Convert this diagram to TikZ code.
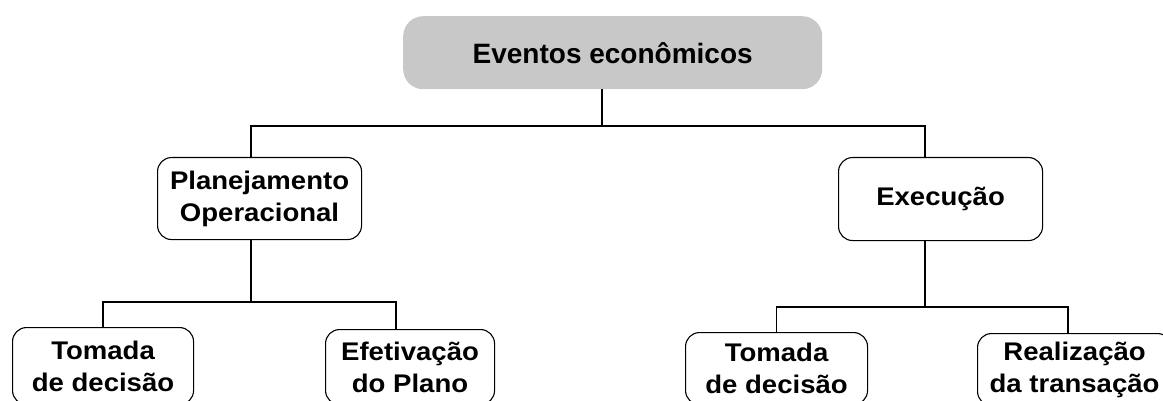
\documentclass[tikz,border=0pt]{standalone}
\usepackage{fontspec}
\setmainfont{Liberation Sans}
\usepackage{graphicx}
\newcommand{\wideline}[1]{\scalebox{1.08}[1]{#1}}
\definecolor{topgray}{RGB}{200,200,200}
\begin{document}
\begin{tikzpicture}[x=1pt,y=-1pt,
  box/.style={draw=black, line width=1.1pt, rounded corners=14pt, inner sep=0pt,
    font=\bfseries\fontsize{25.5}{32}\selectfont, align=center, anchor=north west},
  topbox/.style={fill=topgray, draw=none, rounded corners=20pt, inner sep=0pt,
    font=\bfseries\fontsize{28}{34}\selectfont, anchor=north west},
  conn/.style={draw=black, line width=1.4pt}]
\useasboundingbox (0,0) rectangle (1163,401);
\clip (0,0) rectangle (1163,401);
\fill[white] (0,0) rectangle (1163,401);
% nodes
\node[topbox, minimum width=419pt, minimum height=73pt] (top) at (403,16) {Eventos econômicos};
\node[box, minimum width=204pt, minimum height=82pt] (po) at (157,157) {\wideline{Planejamento}\\\wideline{Operacional}};
\node[box, minimum width=204pt, minimum height=83pt] (ex) at (838,157) {\wideline{Execução}};
\node[box, minimum width=181pt, minimum height=77pt] (tl) at (12,327) {\wideline{Tomada}\\\wideline{de decisão}};
\node[box, minimum width=169pt, minimum height=75pt] (ef) at (325,329) {\wideline{Efetivação}\\\wideline{do Plano}};
\node[box, minimum width=182pt, minimum height=72pt] (tr) at (685,332) {\wideline{Tomada}\\\wideline{de decisão}};
\node[box, minimum width=194pt, minimum height=72pt] (re) at (977,333) {\wideline{Realização}\\\wideline{da transação}};
% junction coordinates
\coordinate (j1) at (602,126);
\coordinate (xL) at (251,126);
\coordinate (xR) at (925,126);
\coordinate (j2) at (251,302);
\coordinate (xE) at (396,302);
\coordinate (j3) at (925,307);
\coordinate (xRe) at (1068,307);
% connectors
\draw[conn] (top.south -| j1) -- (j1);
\draw[conn] (po.north -| xL) -- (xL) -- (xR) -- (ex.north -| xR);
\draw[conn] (po.south -| xL) -- (j2);
\draw[conn] (tl.north) -- (tl.north |- j2) -- (xE) -- (ef.north -| xE);
\draw[conn] (ex.south -| xR) -- (j3);
\draw[conn] (tr.north) -- (tr.north |- j3) -- (xRe) -- (re.north -| xRe);
\end{tikzpicture}
\end{document}
